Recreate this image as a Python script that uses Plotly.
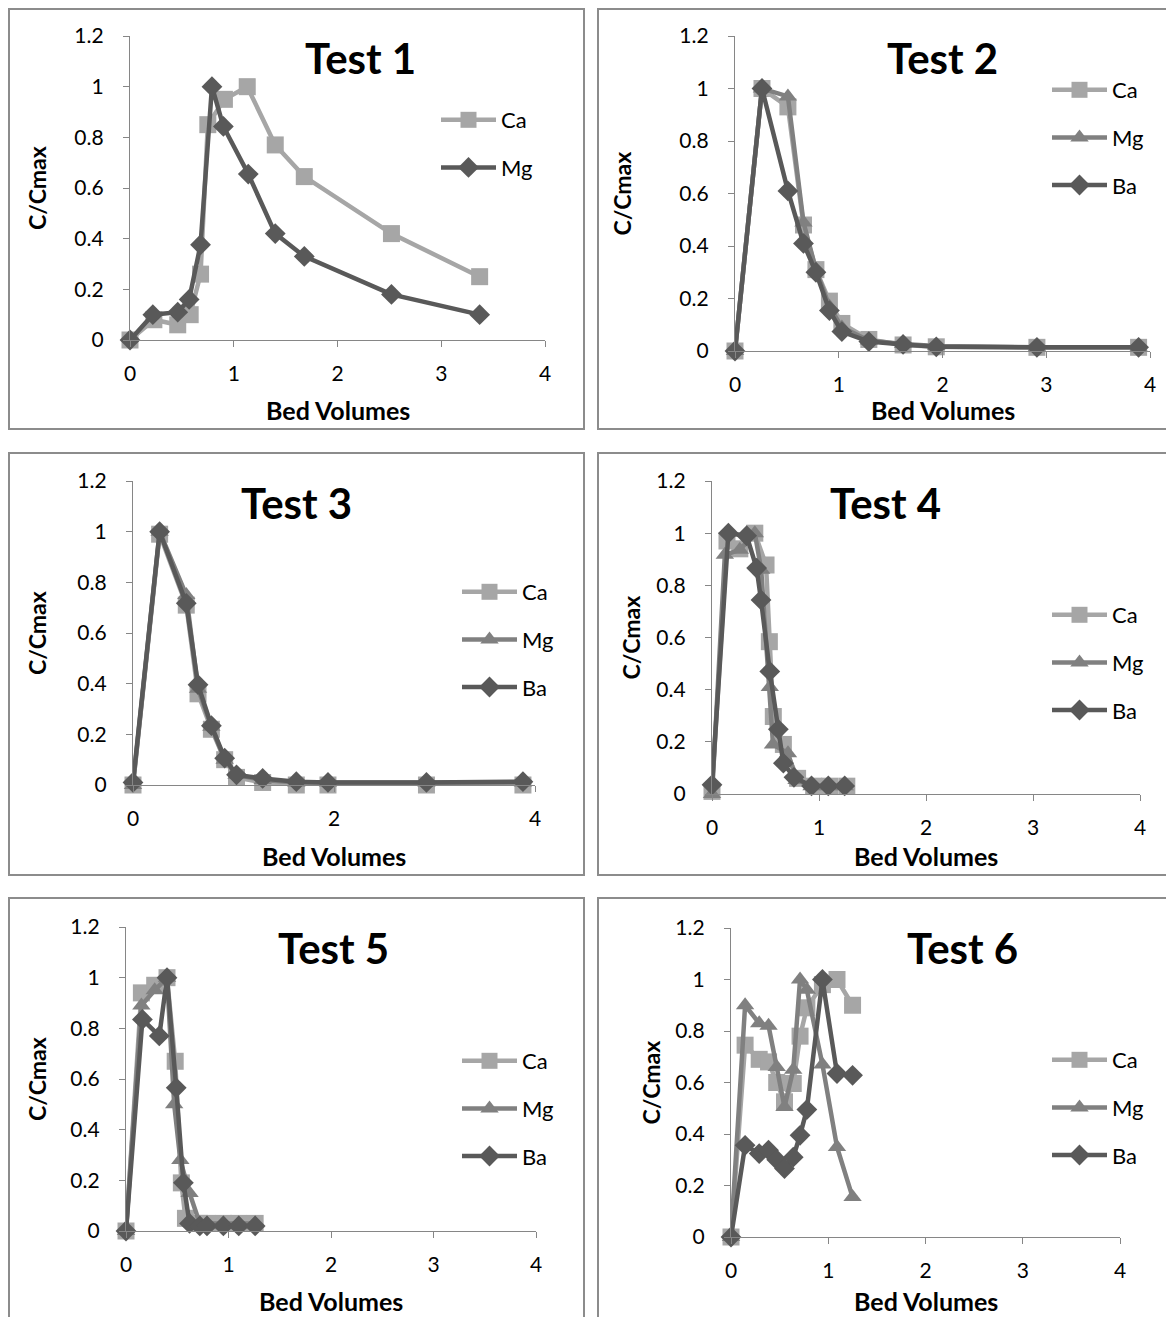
import plotly.graph_objects as go

# ---- data ----
# Test 1
t1_ca_x = [0, 0.23, 0.46, 0.58, 0.68, 0.75, 0.91, 1.13, 1.40, 1.68, 2.52, 3.37]
t1_ca_y = [0, 0.08, 0.06, 0.10, 0.26, 0.85, 0.95, 1.0, 0.77, 0.645, 0.42, 0.25]
t1_mg_x = [0, 0.22, 0.46, 0.57, 0.68, 0.79, 0.90, 1.14, 1.40, 1.68, 2.52, 3.37]
t1_mg_y = [0, 0.10, 0.11, 0.16, 0.376, 1.0, 0.843, 0.655, 0.42, 0.33, 0.18, 0.10]

# Test 2
t2_x = [0, 0.26, 0.51, 0.66, 0.78, 0.91, 1.03, 1.29, 1.62, 1.94, 2.91, 3.89]
t2_ca = [0, 1.0, 0.93, 0.48, 0.31, 0.19, 0.105, 0.044, 0.023, 0.016, 0.014, 0.014]
t2_mg = [0, 1.0, 0.97, 0.49, 0.31, 0.17, 0.09, 0.04, 0.027, 0.019, 0.014, 0.014]
t2_ba = [0, 1.0, 0.61, 0.41, 0.30, 0.154, 0.074, 0.036, 0.025, 0.016, 0.014, 0.014]

# Test 3
t3_x = [0, 0.265, 0.53, 0.647, 0.78, 0.912, 1.03, 1.29, 1.625, 1.94, 2.92, 3.88]
t3_ca = [0, 0.99, 0.71, 0.36, 0.22, 0.10, 0.03, 0.01, 0, 0, 0, 0]
t3_mg = [0, 1.0, 0.75, 0.38, 0.23, 0.10, 0.04, 0.02, 0.01, 0.01, 0.01, 0.01]
t3_ba = [0.01, 1.0, 0.717, 0.396, 0.234, 0.106, 0.04, 0.026, 0.013, 0.01, 0.01, 0.013]

# Test 4
t4_ca_x = [0, 0.14, 0.26, 0.40, 0.505, 0.536, 0.573, 0.667, 0.80, 0.95, 1.10, 1.26]
t4_ca_y = [0.01, 0.97, 0.94, 1.0, 0.878, 0.584, 0.297, 0.19, 0.06, 0.03, 0.03, 0.03]
t4_mg_x = [0, 0.12, 0.26, 0.40, 0.46, 0.54, 0.57, 0.71, 0.79, 0.93, 1.09, 1.24]
t4_mg_y = [0, 0.917, 0.936, 1.0, 0.86, 0.41, 0.19, 0.156, 0.054, 0.03, 0.03, 0.03]
t4_ba_x = [0, 0.153, 0.324, 0.417, 0.458, 0.54, 0.62, 0.667, 0.766, 0.93, 1.087, 1.24]
t4_ba_y = [0.035, 1.0, 0.99, 0.866, 0.744, 0.47, 0.248, 0.118, 0.064, 0.031, 0.031, 0.031]

# Test 5
t5_ca_x = [0, 0.15, 0.28, 0.40, 0.48, 0.54, 0.58, 0.72, 0.79, 0.95, 1.10, 1.26]
t5_ca_y = [0, 0.94, 0.97, 1.0, 0.67, 0.19, 0.05, 0.03, 0.03, 0.03, 0.03, 0.03]
t5_mg_x = [0, 0.15, 0.28, 0.40, 0.47, 0.53, 0.62, 0.72, 0.79, 0.95, 1.10, 1.26]
t5_mg_y = [0, 0.89, 0.95, 1.0, 0.50, 0.28, 0.15, 0.03, 0.03, 0.03, 0.03, 0.03]
t5_ba_x = [0, 0.16, 0.325, 0.40, 0.49, 0.56, 0.62, 0.72, 0.79, 0.95, 1.10, 1.26]
t5_ba_y = [0, 0.835, 0.77, 1.0, 0.565, 0.19, 0.03, 0.02, 0.02, 0.02, 0.02, 0.02]

# Test 6
t6_x = [0, 0.145, 0.29, 0.386, 0.47, 0.55, 0.64, 0.71, 0.78, 0.94, 1.09, 1.25]
t6_ca = [0, 0.745, 0.69, 0.68, 0.60, 0.525, 0.596, 0.78, 0.89, 0.98, 1.0, 0.90]
t6_mg = [0, 0.90, 0.83, 0.82, 0.66, 0.505, 0.65, 1.0, 0.96, 0.67, 0.35, 0.155]
t6_ba = [0, 0.356, 0.324, 0.337, 0.30, 0.266, 0.31, 0.395, 0.495, 1.0, 0.635, 0.628]

W, H = 1174, 1317
OFF = 8  # page body margin, positions below are page pixels
FONT = "Lato"
CA, MG, BA = "#a6a6a6", "#808080", "#595959"
AXC = "#868686"
SIZES = {"square": 17, "diamond": 16, "triangle-up": 16}


def px(x):
    return (x - OFF) / W


def py(y):
    return 1 - (y - OFF) / H


panels = [
    dict(area=(130, 545, 340, 36), title=("Test 1", 360, 58), ytx=37, xty=410, leg=(436, 99), dtick=1,
         border=(9, 9, 584, 429),
         series=[("Ca", t1_ca_x, t1_ca_y, CA, "square"), ("Mg", t1_mg_x, t1_mg_y, BA, "diamond")]),
    dict(area=(735, 1150, 351, 36), title=("Test 2", 942, 58), ytx=622, xty=410, leg=(1047, 69), dtick=1,
         border=(598, 9, 1172, 429),
         series=[("Ca", t2_x, t2_ca, CA, "square"), ("Mg", t2_x, t2_mg, MG, "triangle-up"),
                 ("Ba", t2_x, t2_ba, BA, "diamond")]),
    dict(area=(133, 535, 785, 481), title=("Test 3", 296, 503), ytx=37, xty=856, leg=(457, 571), dtick=2,
         border=(9, 453, 584, 875),
         series=[("Ca", t3_x, t3_ca, CA, "square"), ("Mg", t3_x, t3_mg, MG, "triangle-up"),
                 ("Ba", t3_x, t3_ba, BA, "diamond")]),
    dict(area=(712, 1140, 794, 481), title=("Test 4", 885, 503), ytx=630, xty=856, leg=(1047, 594), dtick=1,
         border=(598, 453, 1172, 875),
         series=[("Ca", t4_ca_x, t4_ca_y, CA, "square"), ("Mg", t4_mg_x, t4_mg_y, MG, "triangle-up"),
                 ("Ba", t4_ba_x, t4_ba_y, BA, "diamond")]),
    dict(area=(126, 536, 1231, 927), title=("Test 5", 333, 948), ytx=37, xty=1301, leg=(457, 1040), dtick=1,
         border=(9, 898, 584, 1335),
         series=[("Ca", t5_ca_x, t5_ca_y, CA, "square"), ("Mg", t5_mg_x, t5_mg_y, MG, "triangle-up"),
                 ("Ba", t5_ba_x, t5_ba_y, BA, "diamond")]),
    dict(area=(731, 1120, 1237, 928), title=("Test 6", 962, 948), ytx=650, xty=1301, leg=(1047, 1039), dtick=1,
         border=(598, 898, 1172, 1335),
         series=[("Ca", t6_x, t6_ca, CA, "square"), ("Mg", t6_x, t6_mg, MG, "triangle-up"),
                 ("Ba", t6_x, t6_ba, BA, "diamond")]),
]

fig = go.Figure()
layout = {}
annotations = []
shapes = []

for i, p in enumerate(panels, start=1):
    sfx = "" if i == 1 else str(i)
    leg = "legend" if i == 1 else f"legend{i}"
    x0, x1, yb, yt = p["area"]
    for k, (name, xs, ys, col, sym) in enumerate(p["series"]):
        fig.add_trace(go.Scatter(
            x=xs, y=ys, name=name, mode="lines+markers",
            line=dict(color=col, width=4.5),
            marker=dict(symbol=sym, size=SIZES[sym], color=col),
            xaxis="x" + sfx, yaxis="y" + sfx, cliponaxis=False,
            legend=leg, legendgroup=f"g{i}{k}",
        ))
    layout["xaxis" + sfx] = dict(
        domain=[px(x0), px(x1)], anchor="y" + sfx, range=[0, 4], dtick=p["dtick"], tick0=0,
        showline=True, linecolor=AXC, linewidth=1.3, ticks="outside", ticklen=6, tickcolor=AXC,
        showgrid=False, zeroline=False, tickfont=dict(size=21, family=FONT, color="black"),
        ticklabelstandoff=9,
    )
    layout["yaxis" + sfx] = dict(
        domain=[py(yb), py(yt)], anchor="x" + sfx, range=[0, 1.2], dtick=0.2, tick0=0,
        showline=True, linecolor=AXC, linewidth=1.3, ticks="outside", ticklen=6, tickcolor=AXC,
        showgrid=False, zeroline=False, tickfont=dict(size=21, family=FONT, color="black"),
        ticklabelstandoff=15,
    )
    layout[leg] = dict(
        x=px(p["leg"][0]), y=py(p["leg"][1]), xanchor="left", yanchor="top",
        bgcolor="rgba(0,0,0,0)", font=dict(size=22, family=FONT, color="black"),
        tracegroupgap=16, itemwidth=55,
    )
    t, tx, ty = p["title"]
    common = dict(xref="paper", yref="paper", showarrow=False, xanchor="center", yanchor="middle")
    annotations.append(dict(text=f"<b>{t}</b>", x=px(tx), y=py(ty),
                            font=dict(size=42, family=FONT, color="black"), **common))
    annotations.append(dict(text="<b>C/Cmax</b>", x=px(p["ytx"]), y=py((yb + yt) / 2), textangle=-90,
                            font=dict(size=23, family=FONT, color="black"), **common))
    annotations.append(dict(text="<b>Bed Volumes</b>", x=px((x0 + x1) / 2), y=py(p["xty"]),
                            font=dict(size=25, family=FONT, color="black"), **common))
    bx0, by0, bx1, by1 = p["border"]
    shapes.append(dict(type="rect", xref="paper", yref="paper", x0=px(bx0), x1=px(bx1), y0=py(by1), y1=py(by0),
                       line=dict(color="#8c8c8c", width=2), fillcolor="rgba(0,0,0,0)"))

fig.update_layout(
    width=W, height=H, margin=dict(l=0, r=0, t=0, b=0, autoexpand=False),
    paper_bgcolor="white", plot_bgcolor="white",
    annotations=annotations, shapes=shapes, showlegend=True,
    **layout,
)

fig.write_html("out.html")
